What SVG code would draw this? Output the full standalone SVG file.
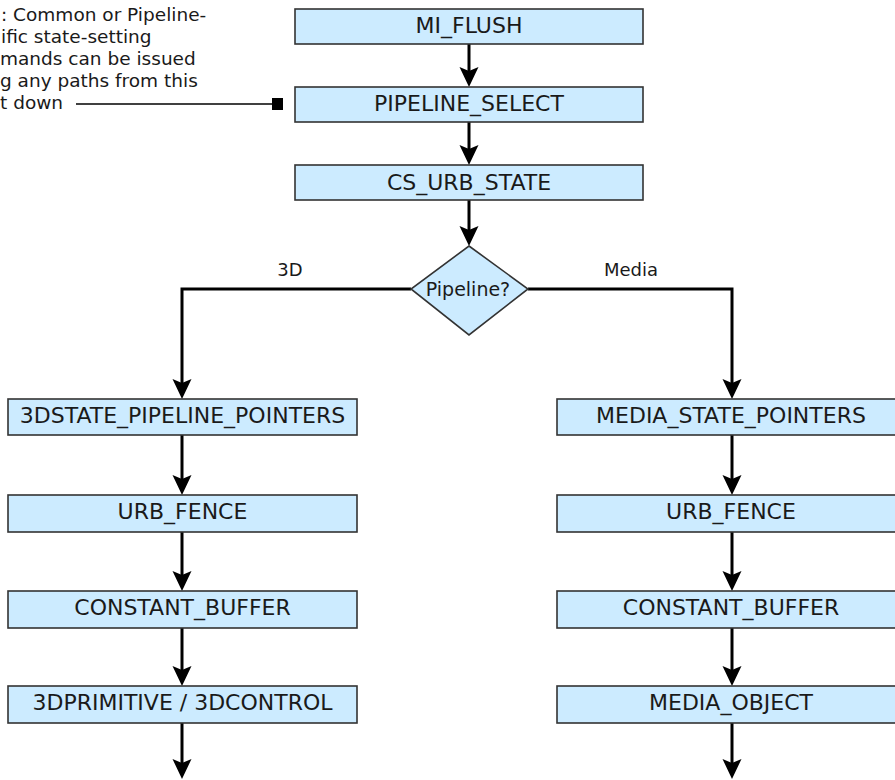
<svg xmlns="http://www.w3.org/2000/svg" width="895" height="780" viewBox="0 0 895 780">
  <style>
    .box { fill: #CCEBFF; stroke: #333333; stroke-width: 1.6; }
    .lbl { font-family: "DejaVu Sans", Verdana, sans-serif; font-size: 22px; fill: #1a1a1a; text-anchor: middle; }
    .sm { font-family: "DejaVu Sans", Verdana, sans-serif; font-size: 18px; fill: #1a1a1a; text-anchor: middle; }
    .dec { font-family: "DejaVu Sans", Verdana, sans-serif; font-size: 19px; fill: #1a1a1a; text-anchor: middle; }
    .note { font-family: "DejaVu Sans", Verdana, sans-serif; font-size: 18.5px; fill: #1a1a1a; }
    .conn { fill: none; stroke: #000000; stroke-width: 3; marker-end: url(#arrow); }
    .thin { fill: none; stroke: #000000; stroke-width: 1.5; }
  </style>
  <defs>
    <marker id="arrow" markerUnits="userSpaceOnUse" viewBox="0 0 20 20" refX="12" refY="10" markerWidth="20" markerHeight="20" orient="auto">
      <path d="M0,0.5 L20,10 L0,19.5 L4,10 Z" fill="#000000"/>
    </marker>
  </defs>
  <rect width="895" height="780" fill="#FFFFFF"/>

  <g id="note">
    <text class="note" x="1" y="21">: Common or Pipeline-</text>
    <text class="note" x="1" y="43">ific state-setting</text>
    <text class="note" x="0" y="65">mands can be issued</text>
    <text class="note" x="0" y="87">g any paths from this</text>
    <text class="note" x="0" y="109">t down</text>
  </g>

  <g id="connectors">
    <path class="thin" d="M76,104 L273,104"/>
    <rect x="272" y="98" width="11" height="12" fill="#000000"/>
    <path class="conn" d="M469,44 L469,79"/>
    <path class="conn" d="M469,122 L469,157"/>
    <path class="conn" d="M469,200 L469,238"/>
    <path class="conn" d="M411,289 L182,289 L182,391"/>
    <path class="conn" d="M528,289 L732,289 L732,391"/>
    <path class="conn" d="M182,435 L182,487"/>
    <path class="conn" d="M182,532 L182,583"/>
    <path class="conn" d="M182,628 L182,678"/>
    <path class="conn" d="M182,723 L182,771"/>
    <path class="conn" d="M732,435 L732,487"/>
    <path class="conn" d="M732,532 L732,583"/>
    <path class="conn" d="M732,628 L732,678"/>
    <path class="conn" d="M732,723 L732,771"/>
    <text class="sm" x="290" y="276">3D</text>
    <text class="sm" x="631" y="276">Media</text>
  </g>

  <g id="mi_flush">
    <rect class="box" x="295" y="9" width="348" height="35"/>
    <text class="lbl" x="469" y="33">MI_FLUSH</text>
  </g>
  <g id="pipeline_select">
    <rect class="box" x="295" y="87" width="348" height="35"/>
    <text class="lbl" x="469" y="111">PIPELINE_SELECT</text>
  </g>
  <g id="cs_urb_state">
    <rect class="box" x="295" y="165" width="348" height="35"/>
    <text class="lbl" x="469" y="190">CS_URB_STATE</text>
  </g>
  <g id="pipeline_decision">
    <polygon class="box" points="469,246 528,289 469,335 411,289"/>
    <text class="dec" x="468" y="296">Pipeline?</text>
  </g>

  <g id="state_pipeline_pointers_3d">
    <rect class="box" x="8" y="399" width="349" height="36"/>
    <text class="lbl" x="182.5" y="423">3DSTATE_PIPELINE_POINTERS</text>
  </g>
  <g id="urb_fence_3d">
    <rect class="box" x="8" y="495" width="349" height="37"/>
    <text class="lbl" x="182.5" y="519">URB_FENCE</text>
  </g>
  <g id="constant_buffer_3d">
    <rect class="box" x="8" y="591" width="349" height="37"/>
    <text class="lbl" x="182.5" y="615">CONSTANT_BUFFER</text>
  </g>
  <g id="primitive_3d">
    <rect class="box" x="8" y="686" width="349" height="37"/>
    <text class="lbl" x="182.5" y="710">3DPRIMITIVE / 3DCONTROL</text>
  </g>

  <g id="media_state_pointers">
    <rect class="box" x="557" y="399" width="349" height="36"/>
    <text class="lbl" x="731" y="423">MEDIA_STATE_POINTERS</text>
  </g>
  <g id="urb_fence_media">
    <rect class="box" x="557" y="495" width="349" height="37"/>
    <text class="lbl" x="731" y="519">URB_FENCE</text>
  </g>
  <g id="constant_buffer_media">
    <rect class="box" x="557" y="591" width="349" height="37"/>
    <text class="lbl" x="731" y="615">CONSTANT_BUFFER</text>
  </g>
  <g id="media_object">
    <rect class="box" x="557" y="686" width="349" height="37"/>
    <text class="lbl" x="731" y="710">MEDIA_OBJECT</text>
  </g>
</svg>
